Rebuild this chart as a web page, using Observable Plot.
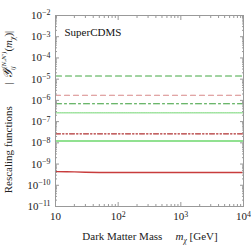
<!DOCTYPE html>
<html><head><meta charset="utf-8">
<script src="https://cdn.jsdelivr.net/npm/d3@7"></script>
<script src="https://cdn.jsdelivr.net/npm/@observablehq/plot@0.6"></script>
<style>
body{margin:0;background:#fff}
svg{font-family:"Liberation Serif",serif}
</style>
</head><body><div id="chart"></div>
<script>
// Dark matter mass (GeV)
const massGeV = [10, 15, 20, 30, 50, 100, 1000, 10000];
// Rescaling function values (flat curves)
const greenDashed   = [1.4e-5, 1.4e-5, 1.4e-5, 1.4e-5, 1.4e-5, 1.4e-5, 1.4e-5, 1.4e-5];
const redDashed     = [1.75e-6, 1.75e-6, 1.75e-6, 1.75e-6, 1.75e-6, 1.75e-6, 1.75e-6, 1.75e-6];
const greenDashDot  = [6.9e-7, 6.9e-7, 6.9e-7, 6.9e-7, 6.9e-7, 6.9e-7, 6.9e-7, 6.9e-7];
const greenDotted   = [2.6e-7, 2.6e-7, 2.6e-7, 2.6e-7, 2.6e-7, 2.6e-7, 2.6e-7, 2.6e-7];
const redDashDotDot = [2.65e-8, 2.65e-8, 2.65e-8, 2.65e-8, 2.65e-8, 2.65e-8, 2.65e-8, 2.65e-8];
const greenSolid    = [1.22e-8, 1.22e-8, 1.22e-8, 1.22e-8, 1.22e-8, 1.22e-8, 1.22e-8, 1.22e-8];
const redSolid      = [4.4e-10, 4.35e-10, 4.25e-10, 4.1e-10, 4.0e-10, 4.0e-10, 4.0e-10, 4.0e-10];

const xMajor = [10, 100, 1000, 10000];
const yMajor = [1e-11, 1e-10, 1e-9, 1e-8, 1e-7, 1e-6, 1e-5, 1e-4, 1e-3, 1e-2];
const xMinor = [];
for (let e = 1; e < 4; e++) for (let k = 2; k <= 9; k++) xMinor.push(k * 10 ** e);
const yMinor = [];
for (let e = -11; e < -2; e++) for (let k = 2; k <= 9; k++) yMinor.push(k * 10 ** e);

const series = [
  {v: greenDashed, stroke: "#45a845", dash: "6,4", w: 1.1},
  {v: redDashed, stroke: "#d88888", dash: "5,4", w: 1.1},
  {v: greenDashDot, stroke: "#3a9e3a", dash: "6,3,2,3", w: 1.1},
  {v: greenDotted, stroke: "#9fe39f", dash: "1.2,1", w: 1.4},
  {v: redDashDotDot, stroke: "#b03030", dash: "5,2,1.5,2,1.5,2", w: 1.1},
  {v: greenSolid, stroke: "#6ed86e", dash: null, w: 1.4},
  {v: redSolid, stroke: "#c83c3c", dash: null, w: 1.3}
];

const lab = d => d === 10 ? "10" : `10^${Math.round(Math.log10(d))}`;
const tickCol = "#999";

const marks = [];
for (const s of series) {
  marks.push(Plot.line(massGeV.map((m, i) => ({m, v: s.v[i]})), {
    x: "m", y: "v", stroke: s.stroke, strokeWidth: s.w, strokeDasharray: s.dash
  }));
}
marks.push(
  Plot.frame({stroke: tickCol}),
  Plot.axisY(yMajor, {anchor: "left", tickSize: 4, insetLeft: 4, tickFormat: () => "", stroke: tickCol, label: null}),
  Plot.axisY(yMinor, {anchor: "left", tickSize: 2, insetLeft: 2, tickFormat: () => "", stroke: tickCol, label: null}),
  Plot.axisY(yMajor, {anchor: "right", tickSize: 4, insetRight: 4, tickFormat: () => "", stroke: tickCol, label: null}),
  Plot.axisY(yMinor, {anchor: "right", tickSize: 2, insetRight: 2, tickFormat: () => "", stroke: tickCol, label: null}),
  Plot.axisX(xMajor, {anchor: "bottom", tickSize: 4, insetBottom: 4, tickFormat: () => "", stroke: tickCol, label: null}),
  Plot.axisX(xMinor, {anchor: "bottom", tickSize: 2, insetBottom: 2, tickFormat: () => "", stroke: tickCol, label: null}),
  Plot.axisX(xMajor, {anchor: "top", tickSize: 4, insetTop: 4, tickFormat: () => "", stroke: tickCol, label: null}),
  Plot.axisX(xMinor, {anchor: "top", tickSize: 2, insetTop: 2, tickFormat: () => "", stroke: tickCol, label: null}),
  Plot.axisY(yMajor, {anchor: "left", tickSize: 0, tickPadding: 5, tickFormat: lab, fill: "#222", label: null}),
  Plot.axisX(xMajor, {anchor: "bottom", tickSize: 0, tickPadding: 6, tickFormat: lab, fill: "#222", label: null}),
  Plot.text(["SuperCDMS"], {frameAnchor: "top-left", dx: 9, dy: 13, fontSize: 11, fill: "#111", textAnchor: "start"})
);

const chart = Plot.plot({
  width: 251, height: 246,
  marginLeft: 55, marginRight: 8, marginTop: 15, marginBottom: 40,
  style: {fontFamily: "Liberation Serif", fontSize: "11px", background: "#fff"},
  x: {type: "log", domain: [10, 10000]},
  y: {type: "log", domain: [1e-11, 1e-2]},
  marks
});
document.getElementById("chart").appendChild(chart);

// superscript tick labels
const svg = d3.select(chart);
svg.selectAll("text").each(function() {
  const t = d3.select(this);
  const s = t.text();
  const m = s.match(/^10\^(-?\d+)$/);
  if (m) {
    t.text("10");
    t.append("tspan").attr("dy", "-0.45em").attr("font-size", "0.72em").text(m[1].replace("-", "\u2212"));
  }
});

// axis titles
const xt = svg.append("text").attr("x", 150).attr("y", 240).attr("text-anchor", "middle")
  .attr("font-size", 11).attr("fill", "#222");
xt.append("tspan").text("Dark Matter Mass\u2003\u2009");
xt.append("tspan").attr("font-style", "italic").text("m");
xt.append("tspan").attr("font-style", "italic").attr("font-size", 7.5).attr("dy", 2.5).text("\u03c7");
xt.append("tspan").attr("dy", -2.5).text(" [GeV]");

const yt = svg.append("text").attr("transform", "translate(12,112) rotate(-90)")
  .attr("text-anchor", "middle").attr("font-size", 11).attr("fill", "#222");
yt.append("tspan").text("Rescaling functions\u2003\u2003| ");
yt.append("tspan").attr("font-style", "italic").attr("font-size", 12).text("\ud835\udcb4");
yt.append("tspan").attr("font-style", "italic").attr("font-size", 7).attr("dy", 3).text("ij");
yt.append("tspan").attr("font-style", "italic").attr("font-size", 7).attr("dx", -5).attr("dy", -9).text("\u03c4(N,N\u2032)");
yt.append("tspan").attr("dy", 6).text("(");
yt.append("tspan").attr("font-style", "italic").text("m");
yt.append("tspan").attr("font-style", "italic").attr("font-size", 7.5).attr("dy", 2.5).text("\u03c7");
yt.append("tspan").attr("dy", -2.5).text(")|");
</script>
</body></html>
